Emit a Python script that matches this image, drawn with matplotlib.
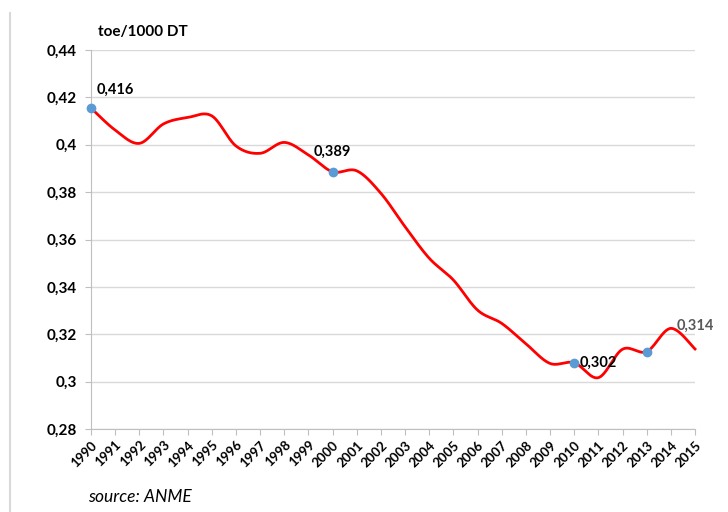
import numpy as np
import matplotlib
matplotlib.use('Agg')
from matplotlib import pyplot as plt
from matplotlib.lines import Line2D

# data
years = list(range(1990, 2016))
values = [0.4155, 0.4062, 0.4006, 0.4088, 0.4115, 0.4122, 0.3995, 0.3964,
          0.4010, 0.3957, 0.3886, 0.3890, 0.3795, 0.3654, 0.3521, 0.3429,
          0.3302, 0.3246, 0.3160, 0.3077, 0.3080, 0.3017, 0.3137, 0.3127,
          0.3225, 0.3138]
marked_years = [1990, 2000, 2010, 2013]
yticks = [0.28, 0.30, 0.32, 0.34, 0.36, 0.38, 0.40, 0.42, 0.44]
ytick_labels = ["0,28", "0,3", "0,32", "0,34", "0,36", "0,38", "0,4", "0,42", "0,44"]

FONT = 'Lato'
RED = '#FF0000'
BLUE = '#5B9BD5'
GRID = '#D9D9D9'


def smooth(x, y, n=30):
    # Excel-like smoothed line: cubic bezier with catmull-rom control points
    x = np.asarray(x, float)
    y = np.asarray(y, float)
    px = np.concatenate([[x[0]], x, [x[-1]]])
    py = np.concatenate([[y[0]], y, [y[-1]]])
    xs, ys = [], []
    t = np.linspace(0, 1, n)
    for i in range(1, len(px) - 2):
        p0 = np.array([px[i], py[i]])
        p3 = np.array([px[i + 1], py[i + 1]])
        c1 = p0 + (np.array([px[i + 1], py[i + 1]]) - np.array([px[i - 1], py[i - 1]])) / 6
        c2 = p3 - (np.array([px[i + 2], py[i + 2]]) - np.array([px[i], py[i]])) / 6
        b = ((1 - t) ** 3)[:, None] * p0 + (3 * (1 - t) ** 2 * t)[:, None] * c1 \
            + (3 * (1 - t) * t ** 2)[:, None] * c2 + (t ** 3)[:, None] * p3
        xs.extend(b[:, 0])
        ys.extend(b[:, 1])
    return np.array(xs), np.array(ys)


fig = plt.figure(figsize=(7.28, 5.12), dpi=100)
ax = fig.add_axes([0.125, 0.162, 0.8297, 0.7403])

sx, sy = smooth(years, values)
ax.plot(sx, sy, color=RED, lw=2.0, zorder=3, clip_on=False)

mx = [y for y in marked_years]
my = [values[years.index(y)] for y in marked_years]
ax.plot(mx, my, 'o', color=BLUE, ms=6, zorder=4, clip_on=False)

lab = dict(fontsize=10.5, fontweight='bold', family=FONT)
ax.annotate("0,416", (1990, values[0]), xytext=(4, 8), textcoords='offset points',
            ha='left', va='bottom', **lab)
ax.annotate("0,389", (2000, values[10]), xytext=(0, 9), textcoords='offset points',
            ha='center', va='bottom', **lab)
ax.annotate("0,302", (2010, values[20]), xytext=(4, 0), textcoords='offset points',
            ha='left', va='center', **lab)
ax.annotate("0,314", (2014, values[24]), xytext=(4, 2), textcoords='offset points',
            ha='left', va='center', color='#595959', **lab)

ax.set_xlim(1990, 2015)
ax.set_ylim(0.28, 0.44)
ax.set_yticks(yticks)
ax.set_yticklabels(ytick_labels, fontsize=11, fontweight='bold', family=FONT)
ax.set_xticks(years)
ax.set_xticklabels([str(y) for y in years], rotation=45, ha='right',
                   rotation_mode='anchor', fontsize=9.5, fontweight='bold', family=FONT)
ax.tick_params(axis='x', length=4, color='#BFBFBF', pad=3)
ax.tick_params(axis='y', length=4, color='#BFBFBF', pad=6)

ax.grid(axis='y', color=GRID, lw=1.0)
ax.set_axisbelow(True)
for s in ['top', 'right']:
    ax.spines[s].set_visible(False)
ax.spines['left'].set_color('#BFBFBF')
ax.spines['bottom'].set_color('#BFBFBF')

fig.text(98 / 728, 1 - 32 / 512, "toe/1000 DT", fontsize=11, fontweight='bold',
         family=FONT, va='center', ha='left')
fig.text(88 / 728, 1 - 497 / 512, "source: ANME", fontsize=12.5, style='italic',
         family=FONT, va='center', ha='left')

# thin frame line on the left edge
fig.add_artist(Line2D([10 / 728, 10 / 728], [0, 1 - 13 / 512], color='#D9D9D9',
                      lw=1.5, transform=fig.transFigure))

fig.savefig('out.png', dpi=100)
